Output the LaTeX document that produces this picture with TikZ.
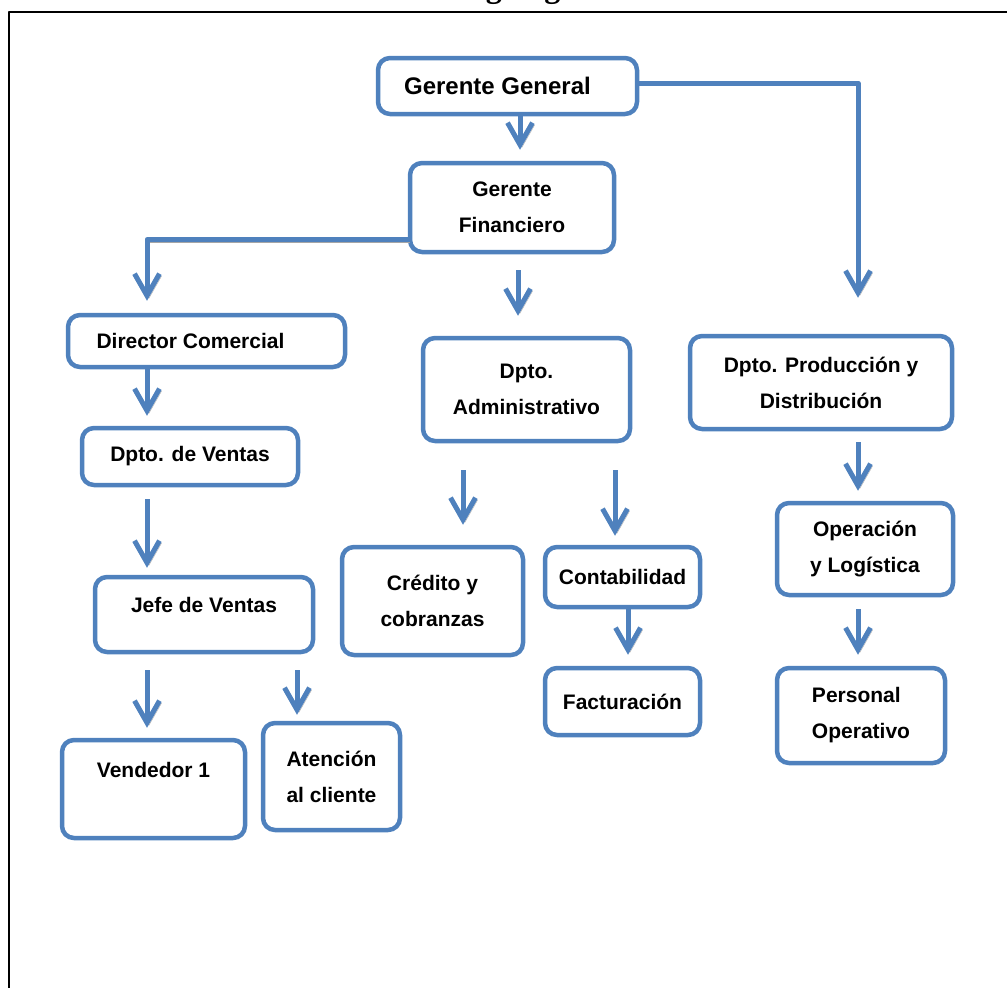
\documentclass[tikz,border=0pt]{standalone}
\usepackage{fontspec}
\setmainfont{Liberation Sans}
\newfontfamily\titlefont{Liberation Serif}
\usetikzlibrary{arrows.meta}
\definecolor{azul}{HTML}{4F81BD}

\begin{document}
\begin{tikzpicture}[x=1pt, y=-1pt, line join=round,
  caja/.style={draw=azul, line width=4.5pt, rounded corners=12pt, fill=white,
    align=center, inner sep=0pt, font=\fontsize{21pt}{36pt}\selectfont\bfseries},
  flecha/.style={draw=azul, line width=5pt,
    -{Straight Barb[length=22pt,width=25pt,line width=5pt]},
    preaction={draw=gray!70, transform canvas={shift={(2pt,-2.5pt)}}}}]

% -----------------------
% Page and frame
% -----------------------
\useasboundingbox (0,0) rectangle (1007,988);
\clip (0,0) rectangle (1007,988);
\node[anchor=base, font=\titlefont\fontsize{32pt}{34pt}\selectfont\bfseries] (titulo) at (540,-3) {Organigrama};
\draw[line width=2pt] (9,988) -- (9,12) -- (1007,12);

% -----------------------
% Boxes
% -----------------------
\node[caja, minimum width=259pt, minimum height=56pt, font=\fontsize{24pt}{36pt}\selectfont\bfseries] (gg) at (507.5,86) {Gerente General\hspace*{20pt}};
\node[caja, minimum width=204pt, minimum height=89pt] (gf) at (512,207.5) {Gerente\\Financiero};

% left branch
\node[caja, minimum width=277pt, minimum height=52pt] (dc) at (206.5,341) {Director Comercial\hspace*{32pt}};
\node[caja, minimum width=216pt, minimum height=57pt] (dv) at (190,456.5) {Dpto. de Ventas};
\node[caja, minimum width=218pt, minimum height=75pt, text depth=20pt] (jv) at (204,614.5) {Jefe de Ventas};
\node[caja, minimum width=183pt, minimum height=98pt, text depth=38pt] (va) at (153.5,789) {Vendedor 1};
\node[caja, minimum width=137pt, minimum height=107pt] (at) at (331.5,776.5) {Atención\\al cliente};

% middle branch
\node[caja, minimum width=207pt, minimum height=103pt] (da) at (526.5,389.5) {Dpto.\\Administrativo};
\node[caja, minimum width=181pt, minimum height=108pt] (cc) at (432.5,601) {Crédito y\\cobranzas};
\node[caja, minimum width=155pt, minimum height=60pt] (co) at (622.5,577) {Contabilidad};
\node[caja, minimum width=155pt, minimum height=67pt] (fa) at (622.5,701.5) {Facturación};

% right branch
\node[caja, minimum width=262pt, minimum height=93pt] (dp) at (821,382.5) {Dpto. Producción y\\Distribución};
\node[caja, minimum width=176pt, minimum height=92pt] (ol) at (865,549) {Operación\\y Logística};
\node[caja, minimum width=168pt, minimum height=95pt, align=left] (po) at (861,715.5) {Personal\\Operativo};

% -----------------------
% Connectors
% -----------------------
\draw[flecha] ([xshift=12.5pt]gg.south) -- ([xshift=8pt,yshift=11pt]gf.north);
\draw[flecha] ([yshift=3pt]gg.east) -| ([xshift=37pt,yshift=36pt]dp.north);
\draw[flecha] ([yshift=-32pt]gf.west) -| ([xshift=-59.5pt,yshift=12pt]dc.north);
\draw[flecha] ([xshift=6pt,yshift=-16pt]gf.south) -- ([xshift=-8.5pt,yshift=20pt]da.north);

\draw[flecha] ([xshift=-59.5pt]dc.south) -- ([xshift=-43pt,yshift=10pt]dv.north);
\draw[flecha] ([xshift=-43pt,yshift=-12pt]dv.south) -- ([xshift=-57pt,yshift=7pt]jv.north);
\draw[flecha] ([xshift=-57pt,yshift=-16pt]jv.south) -- ([xshift=-6.5pt,yshift=10pt]va.north);
\draw[flecha] ([xshift=93pt,yshift=-16pt]jv.south) -- ([xshift=-34.5pt,yshift=6pt]at.north);

\draw[flecha] ([xshift=-63.5pt,yshift=-27pt]da.south) -- ([xshift=30.5pt,yshift=20pt]cc.north);
\draw[flecha] ([xshift=88.5pt,yshift=-27pt]da.south) -- ([xshift=-7.5pt,yshift=9pt]co.north);
\draw[flecha] ([xshift=5.5pt]co.south) -- ([xshift=5.5pt,yshift=11pt]fa.north);

\draw[flecha] ([xshift=37pt,yshift=-11pt]dp.south) -- ([xshift=-7pt,yshift=10pt]ol.north);
\draw[flecha] ([xshift=-7pt,yshift=-12pt]ol.south) -- ([xshift=-3pt,yshift=11pt]po.north);

\end{tikzpicture}
\end{document}
